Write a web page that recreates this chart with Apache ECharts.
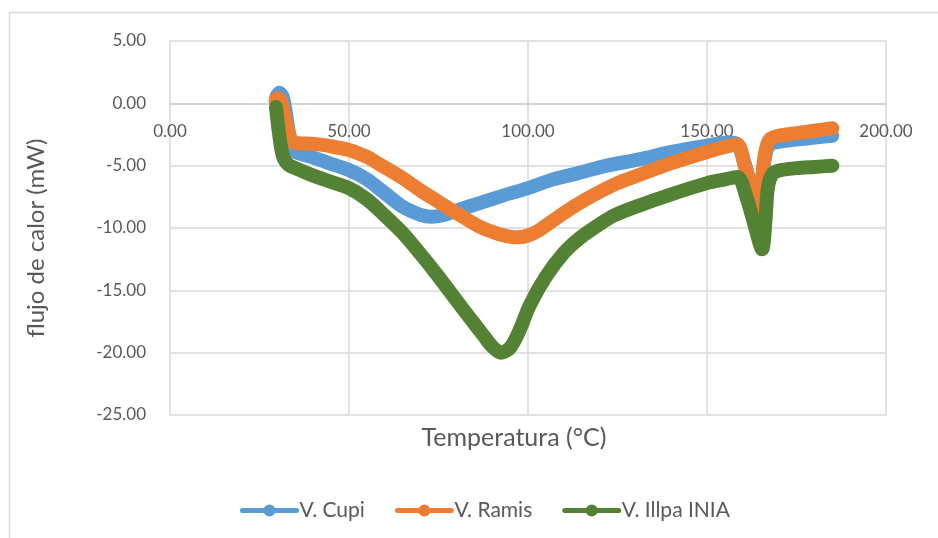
<!DOCTYPE html>
<html>
<head>
<meta charset="utf-8">
<script src="https://cdn.jsdelivr.net/npm/echarts@6/dist/echarts.min.js"></script>
<style>
html,body{margin:0;padding:0;background:#fff;}
#c{width:938px;height:538px;}
</style>
</head>
<body>
<div id="c"></div>
<script>
var seriesNames = ['V. Cupi', 'V. Ramis', 'V. Illpa INIA'];
var seriesColors = ['#5B9BD5', '#ED7D31', '#548235'];

var cupiT = [29.7, 30.5, 31.5, 32.5, 33.5, 34.8, 37, 40, 44, 50, 55, 60, 65, 70, 73, 76, 80, 86.5, 93, 100, 107, 114, 122, 131, 140, 150, 156, 158.5, 160.5, 162.5, 164.3, 165.3, 166.3, 167.5, 170, 175, 180, 185];
var cupiV = [0.5, 0.85, 0.5, -1.0, -2.8, -3.85, -4.1, -4.35, -4.75, -5.35, -6.1, -7.2, -8.3, -8.95, -9.1, -9.0, -8.6, -8.0, -7.4, -6.8, -6.1, -5.6, -5.0, -4.5, -3.9, -3.4, -3.15, -3.3, -4.8, -6.8, -8.3, -6.5, -4.2, -3.3, -3.1, -2.9, -2.75, -2.6];

var ramisT = [29.5, 30.0, 31.0, 32.0, 33.2, 34.4, 36, 40, 44, 50, 55, 58, 65, 70, 75, 80, 86.5, 92, 97, 100, 103, 106, 110, 115, 120, 125, 131, 140, 150, 155, 158.5, 160.5, 162.5, 164.2, 165.2, 166.2, 167.5, 170, 175, 180, 185];
var ramisV = [0.2, 0.4, 0.2, -1.0, -2.5, -3.1, -3.2, -3.25, -3.4, -3.75, -4.3, -4.8, -6.0, -7.0, -7.9, -8.8, -9.9, -10.5, -10.75, -10.6, -10.2, -9.6, -8.8, -7.9, -7.1, -6.4, -5.75, -4.8, -3.9, -3.5, -3.3, -5.0, -7.0, -8.8, -6.5, -4.0, -2.9, -2.6, -2.4, -2.2, -2.0];

var illpaT = [29.6, 30.4, 31.5, 33, 35, 40, 45, 50, 55, 60, 65, 70, 75, 80, 84, 87.5, 90, 92.5, 95, 97.5, 100.5, 105, 110, 114.5, 120, 124, 131, 140, 150, 155, 158.5, 161, 163.5, 165.4, 166.3, 167, 168.2, 170, 175, 180, 185];
var illpaV = [-0.3, -2.3, -4.2, -4.9, -5.2, -5.8, -6.3, -6.8, -7.7, -9.0, -10.4, -12.1, -13.9, -15.8, -17.3, -18.6, -19.5, -20.0, -19.6, -18.3, -16.2, -13.9, -12.0, -10.8, -9.7, -9.0, -8.2, -7.3, -6.4, -6.1, -5.9, -7.5, -10.0, -11.7, -9.5, -6.8, -5.7, -5.4, -5.2, -5.1, -5.0];

var xTickValues = [0, 50, 100, 150, 200];
var yTickValues = [-25, -20, -15, -10, -5, 0, 5];

function zip(a, b) { return a.map(function (v, i) { return [v, b[i]]; }); }
var allT = [cupiT, ramisT, illpaT];
var allV = [cupiV, ramisV, illpaV];

var FONT = 'Lato';
var TXT = '#595959';
var GRID_TOP = 41, GRID_BOTTOM = 123, H = 538;
var plotH = H - GRID_TOP - GRID_BOTTOM;
var yMin = yTickValues[0], yMax = yTickValues[yTickValues.length - 1];
// shift the horizontal axis (labels) up to the zero line, as in the original
var zeroOffset = -plotH * (0 - yMin) / (yMax - yMin);

var chart = echarts.init(document.getElementById('c'), null, {renderer: 'canvas'});
chart.setOption({
  animation: false,
  backgroundColor: '#ffffff',
  grid: {left: 170, right: 52, top: GRID_TOP, bottom: GRID_BOTTOM, containLabel: false},
  xAxis: {
    type: 'value',
    position: 'bottom',
    offset: zeroOffset,
    min: xTickValues[0], max: xTickValues[xTickValues.length - 1], interval: 50,
    axisLine: {show: true, onZero: false, lineStyle: {color: '#d0d0d0', width: 1.5}},
    axisTick: {show: false},
    splitLine: {show: true, lineStyle: {color: '#d9d9d9', width: 1.5}},
    axisLabel: {color: TXT, fontFamily: FONT, fontSize: 17, margin: 20,
      formatter: function (v) { return v.toFixed(2); }}
  },
  yAxis: {
    type: 'value',
    min: yMin, max: yMax, interval: 5,
    axisLine: {show: false},
    axisTick: {show: false},
    splitLine: {show: true, lineStyle: {color: '#d9d9d9', width: 1.5}},
    axisLabel: {color: TXT, fontFamily: FONT, fontSize: 17, margin: 24,
      formatter: function (v) { return v.toFixed(2); }}
  },
  legend: {
    top: 495,
    left: 235,
    itemWidth: 54,
    itemHeight: 15,
    itemGap: 30,
    textStyle: {color: TXT, fontFamily: FONT, fontSize: 21, padding: [0, 0, 0, -2]},
    lineStyle: {width: 5},
    data: seriesNames
  },
  graphic: [
    {type: 'rect', silent: true, z: -1,
      shape: {x: 9.5, y: 12.5, width: 1000, height: 600},
      style: {fill: null, stroke: '#d9d9d9', lineWidth: 1.5}},
    {type: 'text', x: 514, y: 438,
      style: {text: 'Temperatura (°C)', fill: TXT, font: '25px ' + FONT, textAlign: 'center', textVerticalAlign: 'middle'}},
    {type: 'text', x: 36, y: 238, rotation: Math.PI / 2,
      style: {text: 'flujo de calor (mW)', fill: TXT, font: '24px ' + FONT, textAlign: 'center', textVerticalAlign: 'middle'}}
  ],
  series: seriesNames.map(function (n, i) {
    return {
      name: n,
      type: 'line',
      data: zip(allT[i], allV[i]),
      smooth: 0.3,
      symbol: 'circle',
      symbolSize: 13,
      showSymbol: false,
      color: seriesColors[i],
      lineStyle: {color: seriesColors[i], width: 14, cap: 'round', join: 'round'},
      itemStyle: {color: seriesColors[i]},
      emphasis: {disabled: true}
    };
  })
});
</script>
</body>
</html>
